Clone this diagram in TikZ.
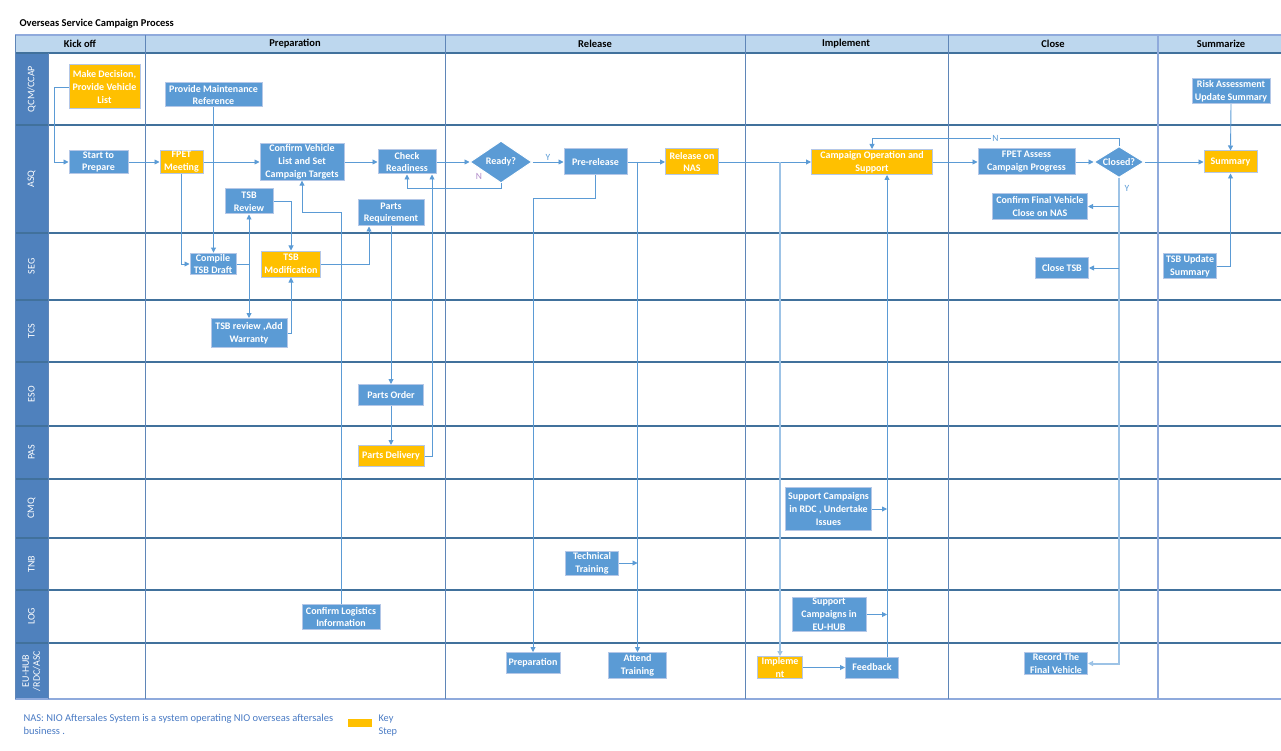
\documentclass[tikz,border=0pt]{standalone}
\usepackage{fontspec}
\setmainfont{Carlito}
\usetikzlibrary{shapes.geometric,arrows.meta}

\definecolor{stepblue}{HTML}{5B9BD5}
\definecolor{keystep}{HTML}{FFC000}
\definecolor{headfill}{HTML}{BDD7EE}
\definecolor{lanefill}{HTML}{4F81BD}
\definecolor{rowline}{HTML}{41719C}
\definecolor{colline}{HTML}{5F86B8}
\definecolor{edgeline}{HTML}{8FAADC}
\definecolor{linkblue}{HTML}{5B9BD5}
\definecolor{linklight}{HTML}{9DC3E6}
\definecolor{boxedge}{HTML}{B4C7E7}
\definecolor{notetext}{HTML}{4A7BC4}
\definecolor{nolabel}{HTML}{B08BC8}

\tikzset{
    stepbox/.style={rectangle, draw=boxedge, line width=1pt, fill=stepblue, text=white,
        font=\bfseries\fontsize{10}{12.8}\selectfont, align=center, inner sep=1pt},
    keybox/.style={stepbox, fill=keystep},
    decision/.style={diamond, draw=white, line width=1pt, fill=stepblue, text=white,
        font=\bfseries\fontsize{10}{12.8}\selectfont, inner sep=0pt},
    flow/.style={draw=linkblue, line width=0.9pt, -{Triangle[length=5pt,width=5pt]}},
    flowwide/.style={flow, draw=linklight, line width=2pt},
    lanelabel/.style={text=white, rotate=90, align=center, font=\fontsize{10}{11}\selectfont},
    phase/.style={font=\bfseries\fontsize{10.5}{12}\selectfont},
    answer/.style={text=linkblue, font=\fontsize{9.5}{10}\selectfont, inner sep=1pt},
    gridrow/.style={draw=rowline, line width=1.2pt},
    gridcol/.style={draw=colline, line width=0.9pt}
}

\begin{document}
\begin{tikzpicture}[x=1pt,y=-1pt]
    % Fix the page size
    \useasboundingbox (0,0) rectangle (1281,751);

    % Draw title
    \node[phase, anchor=west] (title) at (16,24) {Overseas Service Campaign Process};

    % Draw header band and lane column
    \fill[headfill] (15,35) rectangle (1281,53);
    \fill[lanefill] (15,53) rectangle (48,699);

    % Draw lane separators
    \draw[edgeline, line width=1.2pt] (15,35) -- (1281,35);
    \draw[gridrow] (15,53) -- (1281,53);
    \draw[gridrow] (15,125) -- (1281,125);
    \draw[gridrow] (15,233) -- (1281,233);
    \draw[gridrow] (15,300) -- (1281,300);
    \draw[gridrow] (15,362) -- (1281,362);
    \draw[gridrow] (15,426) -- (1281,426);
    \draw[gridrow] (15,479) -- (1281,479);
    \draw[gridrow] (15,538) -- (1281,538);
    \draw[gridrow] (15,590) -- (1281,590);
    \draw[gridrow] (15,643) -- (1281,643);
    \draw[edgeline, line width=1.2pt] (15,699) -- (1281,699);

    % Draw phase separators
    \draw[gridcol] (15,35) -- (15,699);
    \draw[gridcol] (48,53) -- (48,699);
    \draw[gridcol] (145,35) -- (145,699);
    \draw[gridcol] (445,35) -- (445,699);
    \draw[gridcol] (745,35) -- (745,699);
    \draw[gridcol] (948,35) -- (948,699);
    \draw[edgeline, line width=1.4pt] (1158,35) -- (1158,699);

    % Phase names
    \node[phase] (hkick) at (80,44) {Kick off};
    \node[phase] (hprep) at (295,44) {Preparation};
    \node[phase] (hrel) at (595,44) {Release};
    \node[phase] (himpl) at (846,44) {Implement};
    \node[phase] (hclose) at (1053,44) {Close};
    \node[phase] (hsum) at (1221,44) {Summarize};

    % Lane names
    \node[lanelabel] (lqcm) at (31.5,89) {QCM/CCAP};
    \node[lanelabel] (lasq) at (31.5,179) {ASQ};
    \node[lanelabel] (lseg) at (31.5,266.5) {SEG};
    \node[lanelabel] (ltcs) at (31.5,331) {TCS};
    \node[lanelabel] (leso) at (31.5,394) {ESO};
    \node[lanelabel] (lpas) at (31.5,452.5) {PAS};
    \node[lanelabel] (lcmq) at (31.5,508.5) {CMQ};
    \node[lanelabel] (ltnb) at (31.5,564) {TNB};
    \node[lanelabel] (llog) at (31.5,616.5) {LOG};
    \node[lanelabel] (leu) at (31.5,671) {EU-HUB\\/RDC/ASC};

    % QCM/CCAP steps
    \node[keybox, minimum width=71pt, minimum height=44pt] (decide) at (104.5,87) {Make Decision,\\Provide Vehicle\\List};
    \node[stepbox, minimum width=97pt, minimum height=24pt] (maint) at (213.5,95) {Provide Maintenance\\Reference};
    \node[stepbox, minimum width=78pt, minimum height=25pt] (risk) at (1231,91) {Risk Assessment\\Update Summary};

    % ASQ steps
    \node[stepbox, minimum width=59pt, minimum height=21pt] (start) at (98.5,162) {Start to\\Prepare};
    \node[keybox, minimum width=43pt, minimum height=21pt] (fpet) at (181.5,162) {FPET\\Meeting};
    \node[stepbox, minimum width=84pt, minimum height=34pt] (confirm) at (302,162) {Confirm Vehicle\\List and Set\\Campaign Targets};
    \node[stepbox, minimum width=58pt, minimum height=24pt] (check) at (407,162) {Check\\Readiness};
    \node[decision, minimum width=62pt, minimum height=42pt, shape aspect=1.5] (ready) at (501,162) {Ready?};
    \node[stepbox, minimum width=63pt, minimum height=26pt] (prerel) at (595.5,162) {Pre-release};
    \node[keybox, minimum width=53pt, minimum height=26pt] (relnas) at (692,162) {Release on\\NAS};
    \node[keybox, minimum width=121pt, minimum height=25pt] (campaign) at (872,162) {Campaign Operation and\\Support};
    \node[stepbox, minimum width=97pt, minimum height=26pt] (assess) at (1026.5,162) {FPET Assess\\Campaign Progress};
    \node[decision, minimum width=50pt, minimum height=31pt, shape aspect=1.6] (closed) at (1119,162) {Closed?};
    \node[keybox, minimum width=53pt, minimum height=22pt] (summary) at (1230.5,162) {Summary};
    \node[stepbox, minimum width=48pt, minimum height=25pt] (review) at (249,201.5) {TSB\\Review};
    \node[stepbox, minimum width=66pt, minimum height=26pt] (parts) at (391,213) {Parts\\Requirement};
    \node[stepbox, minimum width=95pt, minimum height=26pt] (final) at (1040,206.5) {Confirm Final Vehicle\\Close on NAS};

    % SEG steps
    \node[stepbox, minimum width=46pt, minimum height=21pt] (compile) at (213,264) {Compile\\TSB Draft};
    \node[keybox, minimum width=59pt, minimum height=26pt] (tsbmod) at (291,264) {TSB\\Modification};
    \node[stepbox, minimum width=53pt, minimum height=21pt] (closetsb) at (1062,268) {Close TSB};
    \node[stepbox, minimum width=53pt, minimum height=25pt] (tsbupd) at (1190,266) {TSB Update\\Summary};

    % TCS, ESO and PAS steps
    \node[stepbox, minimum width=76pt, minimum height=29pt] (warranty) at (249,333) {TSB review ,Add\\Warranty};
    \node[stepbox, minimum width=65pt, minimum height=21pt] (order) at (391,395) {Parts Order};
    \node[keybox, minimum width=66pt, minimum height=21pt] (delivery) at (391,456) {Parts Delivery};

    % CMQ, TNB and LOG steps
    \node[stepbox, minimum width=86pt, minimum height=43pt] (rdc) at (828.5,509) {Support Campaigns\\in RDC , Undertake\\Issues};
    \node[stepbox, minimum width=53pt, minimum height=24pt] (tech) at (592,563) {Technical\\Training};
    \node[stepbox, minimum width=78pt, minimum height=25pt] (logistics) at (341,617) {Confirm Logistics\\Information};
    \node[stepbox, minimum width=74pt, minimum height=34pt] (eusupport) at (829,614.5) {Support\\Campaigns in\\EU-HUB};

    % EU-HUB/RDC/ASC steps
    \node[stepbox, minimum width=54pt, minimum height=21pt] (prep) at (533,663) {Preparation};
    \node[stepbox, minimum width=58pt, minimum height=26pt] (attend) at (637.5,665.5) {Attend\\Training};
    \node[keybox, minimum width=45pt, minimum height=21pt] (implement) at (780,667.5) {Impleme\\nt};
    \node[stepbox, minimum width=53pt, minimum height=21pt] (feedback) at (872,667.5) {Feedback};
    \node[stepbox, minimum width=63pt, minimum height=21pt] (record) at (1056,663.5) {Record The\\Final Vehicle};

    % Turning points and branch points
    \coordinate (logturn) at (341,212);
    \coordinate (trainsplit) at (637.5,162);
    \coordinate (implsplit) at (780,162);
    \coordinate (fbtop) at ([xshift=15pt]campaign.south);

    % Kick off and preparation flow
    \draw[flow] (decide.west) -- ++(-14,0) |- (start.west);
    \draw[flow] (start.east) -- (fpet.west);
    \draw[flow] (fpet.east) -- (confirm.west);
    \draw[flow] (maint.south) -- (maint.south |- compile.north);
    \draw[flow] (fpet.south) |- (compile.west);
    \draw[flow] (compile.east) -| (review.south);
    \draw[flow] (compile.east) -| (warranty.north);
    \draw[flow] (review.east) -| (tsbmod.north);
    \draw[flow] (warranty.east) -| (tsbmod.south);
    \draw[flow] (tsbmod.east) -| ([xshift=-22pt]parts.south);
    \draw[flow] (logistics.north) -- (logturn) -| (confirm.south);
    \draw[flow] (confirm.east) -- (check.west);
    \draw[flow] (parts.south) -- (order.north);
    \draw[flow] (order.south) -- (delivery.north);
    \draw[flow] (delivery.east) -| ([xshift=25pt]check.south);

    % Release flow
    \draw[flow] (check.east) -- (ready.west);
    \draw[flow] (ready.south) -- ++(0,5) -| (check.south);
    \node[answer, text=nolabel] (rno) at (479,176) {N};
    \draw[flow] (ready.east) -- node[answer, above] (ryes) {Y} (prerel.west);
    \draw[flow] (prerel.east) -- (relnas.west);
    \draw[flow] (prerel.south) -- ++(0,23) -| (prep.north);
    \draw[flow] (trainsplit) -- (attend.north);
    \draw[flow] (tech.east) -- (tech.east -| attend.north);

    % Implement flow
    \draw[flow] (relnas.east) -- (campaign.west);
    \draw[flowwide] (implsplit) -- (implement.north);
    \draw[flow] (implement.east) -- (feedback.west);
    \draw[flow] ([xshift=15pt]feedback.north) -- (fbtop);
    \draw[flow] (rdc.east) -- (rdc.east -| fbtop);
    \draw[flow] (eusupport.east) -- (eusupport.east -| fbtop);

    % Close and summarize flow
    \draw[flow] (campaign.east) -- (assess.west);
    \draw[flow] (assess.east) -- (closed.west);
    \draw[flow] (closed.north) -- ++(0,-8) -| node[answer, pos=0.25, fill=white] (cno) {N} (campaign.north);
    \draw[flow] (closed.east) -- (summary.west);
    \draw[flowwide] (closed.south) |- (record.east);
    \node[answer] (cyes) at (1127,188) {Y};
    \draw[flow] (closed.south |- final.east) -- (final.east);
    \draw[flow] (closed.south |- closetsb.east) -- (closetsb.east);
    \draw[flow] (risk.south) -- (summary.north);
    \draw[flow] (tsbupd.east) -| (summary.south);

    % Note and key
    \node[anchor=north west, align=left, text=notetext, font=\fontsize{10.5}{13}\selectfont] (note) at (20,711) {NAS: NIO Aftersales System is a system operating NIO overseas aftersales\\business .};
    \node[fill=keystep, minimum width=24pt, minimum height=8pt, inner sep=0pt] (keymark) at (360,722.5) {};
    \node[anchor=north west, align=left, text=notetext, font=\fontsize{10.3}{13}\selectfont] (keytext) at (375,711) {Key\\Step};
\end{tikzpicture}
\end{document}
